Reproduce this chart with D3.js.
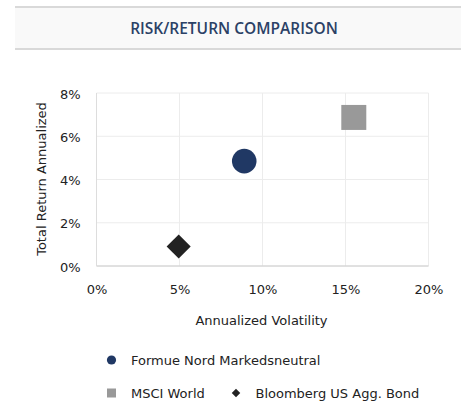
<!DOCTYPE html>
<html>
<head>
<meta charset="utf-8">
<script src="https://cdn.jsdelivr.net/npm/d3@7"></script>
<style>
  body { margin: 0; background: #fff; }
  svg { display: block; }
</style>
</head>
<body>
<svg id="chart" width="461" height="407"></svg>
<script>
// data
const seriesNames = ['Formue Nord Markedsneutral', 'MSCI World', 'Bloomberg US Agg. Bond'];
const volatility = [8.9, 15.5, 4.95];
const totalReturn = [4.85, 6.87, 0.9];
const shapes = ['circle', 'square', 'diamond'];
const colors = ['#203864', '#999999', '#222222'];
const xTicks = [0, 5, 10, 15, 20];
const yTicks = [0, 2, 4, 6, 8];

const tickFont = '"DejaVu Sans", Verdana, sans-serif';
const fontSize = '13px';

const svg = d3.select('#chart');

// header band
svg.append('rect')
  .attr('x', 15).attr('y', 7).attr('width', 446).attr('height', 42)
  .attr('fill', '#f9f9f9');
svg.append('rect').attr('x', 15).attr('y', 6).attr('width', 446).attr('height', 2).attr('fill', '#d9d9d9');
svg.append('rect').attr('x', 15).attr('y', 48).attr('width', 446).attr('height', 2).attr('fill', '#d9d9d9');
svg.append('text')
  .attr('x', 234).attr('y', 34)
  .attr('text-anchor', 'middle')
  .style('font-family', '"Open Sans", sans-serif')
  .style('font-weight', 600)
  .style('font-size', '15.5px')
  .style('fill', '#2b4166')
  .text('RISK/RETURN COMPARISON');

// plot area
const plot = { left: 96.5, right: 428.5, top: 93, bottom: 266 };

const x = d3.scaleLinear().domain([0, 20]).range([plot.left, plot.right]);
const y = d3.scaleLinear().domain([0, 8]).range([plot.bottom, plot.top]);

const grid = svg.append('g');
grid.selectAll('.vg').data(xTicks).enter().append('line')
  .attr('x1', d => x(d)).attr('x2', d => x(d))
  .attr('y1', plot.top).attr('y2', plot.bottom)
  .attr('stroke', '#ececec').attr('stroke-width', 1);
grid.selectAll('.hg').data(yTicks).enter().append('line')
  .attr('x1', plot.left).attr('x2', plot.right)
  .attr('y1', d => y(d)).attr('y2', d => y(d))
  .attr('stroke', '#ececec').attr('stroke-width', 1);

// axis lines
svg.append('line')
  .attr('x1', plot.left).attr('x2', plot.right)
  .attr('y1', plot.bottom).attr('y2', plot.bottom)
  .attr('stroke', '#cccccc');
svg.append('line')
  .attr('x1', plot.left).attr('x2', plot.left)
  .attr('y1', plot.top).attr('y2', plot.bottom)
  .attr('stroke', '#dddddd');

// tick labels
const xAxis = d3.axisBottom(x).tickValues(xTicks).tickSize(0).tickPadding(19).tickFormat(d => d + '%');
const yAxis = d3.axisLeft(y).tickValues(yTicks).tickSize(0).tickPadding(16).tickFormat(d => d + '%');

const gx = svg.append('g').attr('transform', `translate(0,${plot.bottom})`).call(xAxis);
const gy = svg.append('g').attr('transform', `translate(${plot.left},0)`).call(yAxis);
[gx, gy].forEach(g => {
  g.select('.domain').remove();
  g.selectAll('text')
    .style('font-family', tickFont)
    .style('font-size', fontSize)
    .style('fill', '#222');
});
gy.selectAll('text').attr('dy', '0.4em');

// axis titles
svg.append('text')
  .attr('x', 261.5).attr('y', 325)
  .attr('text-anchor', 'middle')
  .style('font-family', tickFont).style('font-size', fontSize).style('fill', '#222')
  .text('Annualized Volatility');
svg.append('text')
  .attr('transform', 'translate(46,179) rotate(-90)')
  .attr('text-anchor', 'middle')
  .style('font-family', tickFont).style('font-size', fontSize).style('fill', '#222')
  .text('Total Return Annualized');

// points
const symbolType = { circle: d3.symbolCircle, square: d3.symbolSquare, diamond: d3.symbolSquare };
const symbolSize = { circle: Math.PI * 12.3 * 12.3, square: 25 * 25, diamond: 17 * 17 };
const symbolRotate = { circle: 0, square: 0, diamond: 45 };

const points = seriesNames.map((name, i) => ({
  name, vol: volatility[i], ret: totalReturn[i], shape: shapes[i], color: colors[i]
}));

svg.append('g').selectAll('path').data(points).enter().append('path')
  .attr('transform', d => `translate(${x(d.vol)},${y(d.ret)}) rotate(${symbolRotate[d.shape]})`)
  .attr('d', d => d3.symbol().type(symbolType[d.shape]).size(symbolSize[d.shape])())
  .attr('fill', d => d.color);

// legend
const legendPos = [
  { x: 111.5, y: 360 },
  { x: 111.5, y: 393 },
  { x: 236, y: 393 }
];
const legendSize = { circle: Math.PI * 4.6 * 4.6, square: 81, diamond: 36 };

const legend = svg.append('g').selectAll('g').data(points).enter().append('g')
  .attr('transform', (d, i) => `translate(${legendPos[i].x},${legendPos[i].y})`);
legend.append('path')
  .attr('transform', d => `rotate(${symbolRotate[d.shape]})`)
  .attr('d', d => d3.symbol().type(symbolType[d.shape]).size(legendSize[d.shape])())
  .attr('fill', d => d.color);
legend.append('text')
  .attr('x', 19.5).attr('y', 4.8)
  .style('font-family', tickFont).style('font-size', fontSize).style('fill', '#222')
  .text(d => d.name);
</script>
</body>
</html>
